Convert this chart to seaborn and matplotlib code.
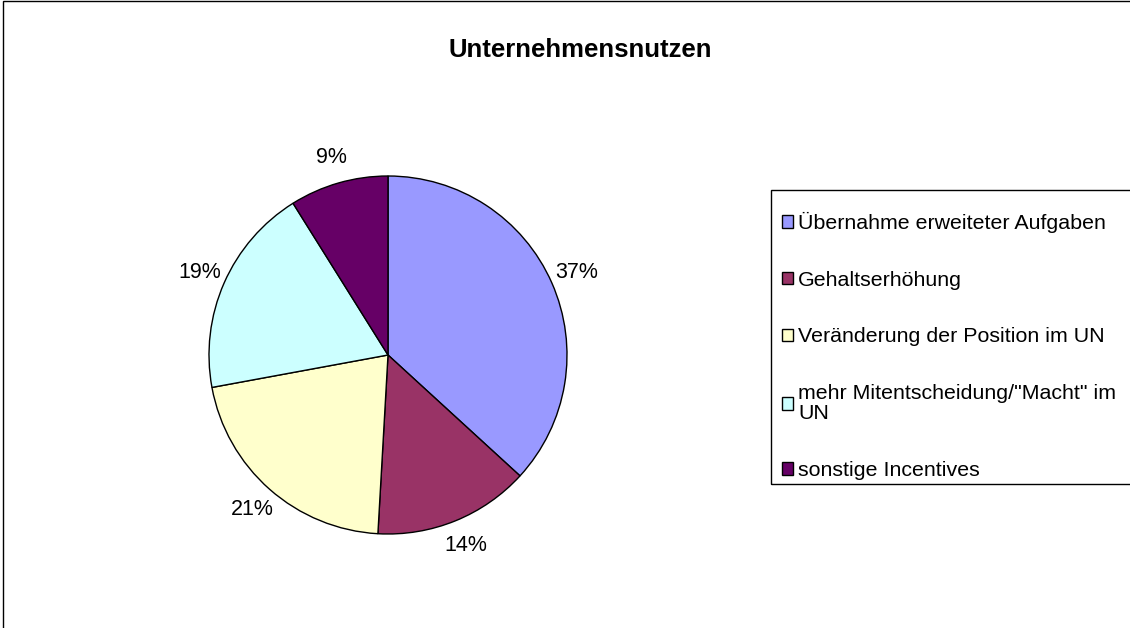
import matplotlib
matplotlib.use("Agg")
import matplotlib.pyplot as plt
import seaborn as sns
from matplotlib.patches import Rectangle

# Daten
categories = [
    "Übernahme erweiteter Aufgaben",
    "Gehaltserhöhung",
    "Veränderung der Position im UN",
    "mehr Mitentscheidung/\"Macht\" im\nUN",
    "sonstige Incentives",
]
shares = [36.8, 14.1, 21.2, 19.0, 8.9]
colors = ["#9999FF", "#993366", "#FFFFCC", "#CCFFFF", "#660066"]
title = "Unternehmensnutzen"

sns.set_theme(style="white")
plt.rcParams["font.family"] = ["Liberation Sans", "DejaVu Sans"]

W, H = 1130, 628
fig = plt.figure(figsize=(W / 100, H / 100), dpi=100)
fig.patch.set_facecolor("white")

# Kreis: Mitte (388, 355), Radius 179 px
cx, cy, r = 388, 355, 179
ax = fig.add_axes([(cx - r) / W, (H - cy - r) / H, 2 * r / W, 2 * r / H])
palette = sns.color_palette(colors)

wedges, texts, autotexts = ax.pie(
    shares,
    colors=palette,
    startangle=90,
    counterclock=False,
    autopct="%.0f%%",
    pctdistance=1.15,
    radius=1,
    wedgeprops=dict(edgecolor="black", linewidth=1),
    textprops=dict(fontsize=15.5, color="black"),
)
ax.set_xlim(-1, 1)
ax.set_ylim(-1, 1)
ax.set_aspect("equal")
ax.axis("off")

fig.text(580 / W, 1 - 50 / H, title, ha="center", va="center",
         fontsize=18.5, fontweight="bold", color="black")

# Legende (Rahmen separat gezeichnet)
leg = fig.legend(
    wedges, categories,
    loc="upper left",
    bbox_to_anchor=(782 / W, 1 - 212 / H),
    fontsize=15.4,
    frameon=False,
    handlelength=0.52,
    handleheight=0.52,
    handletextpad=0.23,
    labelspacing=1.76,
    borderpad=0,
    borderaxespad=0,
)
for t in leg.get_texts():
    t.set_color("black")
    t.set_linespacing(1.1)

fig.patches.append(Rectangle((771 / W, 1 - 484 / H), 500 / W, 294 / H,
                             transform=fig.transFigure, fill=False,
                             edgecolor="black", linewidth=1, clip_on=False))

# Rahmen um das Diagramm
fig.patches.append(Rectangle((3 / W, -0.5), 2, 1.5 - 1 / H, transform=fig.transFigure,
                             fill=False, edgecolor="black", linewidth=1, clip_on=False))

fig.savefig("out.png", dpi=100)
